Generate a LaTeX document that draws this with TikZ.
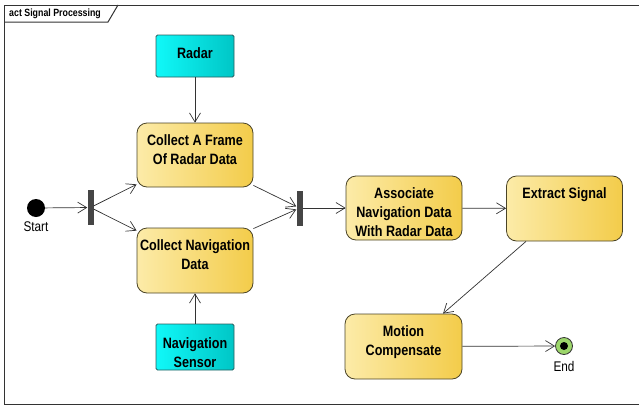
\documentclass[tikz,border=0pt]{standalone}
\usepackage{fontspec}
\setmainfont{Liberation Sans}
\newfontfamily\bfont[FakeStretch=0.84]{Liberation Sans Bold}
\newfontfamily\rfont[FakeStretch=0.84]{Liberation Sans}
\usetikzlibrary{arrows.meta}
\definecolor{actL}{HTML}{FCEBA8}
\definecolor{actR}{HTML}{F3CC4A}
\definecolor{actborder}{HTML}{4B4427}
\definecolor{objL}{HTML}{10F8F8}
\definecolor{objR}{HTML}{00C6C6}
\definecolor{objborder}{HTML}{2A5E5E}
\definecolor{bargray}{HTML}{454545}
\definecolor{linec}{HTML}{333333}
\definecolor{endgreen}{HTML}{9CD66A}
\begin{document}
\begin{tikzpicture}[x=1pt,y=-1pt,
  act/.style={draw=actborder, line width=0.8pt, rounded corners=10pt,
    left color=actL, right color=actR, minimum width=116pt,
    inner xsep=0pt, inner ysep=0pt, text height=22pt, text depth=42pt,
    align=center, font={\bfont\fontsize{15}{19}\selectfont}},
  obj/.style={draw=objborder, line width=0.8pt, rounded corners=1.5pt,
    left color=objL, right color=objR, minimum width=78pt,
    inner xsep=0pt, inner ysep=0pt, text height=23pt, text depth=19pt,
    align=center, font={\bfont\fontsize{15}{19}\selectfont}},
  lbl/.style={inner sep=0pt, font={\rfont\fontsize{14}{16}\selectfont}},
  bar/.style={fill=bargray, draw=none, minimum width=6pt, minimum height=35pt, inner sep=0pt},
  arr/.style={draw=linec, line width=0.7pt, -{Straight Barb[length=9pt,width=11pt]}}]
\useasboundingbox (0,0) rectangle (639,407);
% frame
\draw[linec, line width=1pt] (640,5) -- (4,5) -- (4,404) -- (640,404);
\draw[linec, line width=1pt] (4,22) -- (108,22) -- (118,5);
\node[anchor=west, inner sep=0pt, font={\bfont\fontsize{10.5}{12}\selectfont}] (title) at (9,14) {act Signal Processing};
% nodes
\node[obj] (radar) at (195,56) {Radar};
\node[act, text height=41pt, text depth=23pt] (ca) at (195,155) {Collect A Frame\\Of Radar Data};
\node[act, text height=41pt, text depth=24pt] (cn) at (195,260.5) {Collect Navigation\\Data};
\node[obj, text height=43pt, text depth=3pt] (ns) at (195,347) {Navigation\\Sensor};
\node[circle, fill=black, minimum size=18pt, inner sep=0pt] (start) at (36,208) {};
\node[lbl] (startlbl) at (36,227) {Start};
\node[bar] (f1) at (90.5,207.5) {};
\node[bar] (f2) at (299.5,208) {};
\node[act, text height=60pt, text depth=4pt] (as) at (404,208) {Associate\\Navigation Data\\With Radar Data};
\node[act, text depth=43pt] (ex) at (564.5,208.5) {Extract Signal};
\node[act, text height=41pt, text depth=24pt, minimum width=117pt] (mc) at (403.5,346.5) {Motion\\Compensate};
\node[circle, draw=linec, line width=0.8pt, fill=endgreen, minimum size=17pt, inner sep=0pt] (end) at (564,346) {};
\fill[black] (end.center) circle (4pt);
\node[lbl] (endlbl) at (564,366) {End};
% connectors
\draw[arr] (start) -- (f1);
\draw[arr] (f1) -- ([yshift=3pt]ca.south west);
\draw[arr] (f1) -- ([yshift=-3pt]cn.north west);
\draw[arr] ([yshift=2pt]ca.south east) -- (f2);
\draw[arr] ([yshift=-1pt]cn.north east) -- (f2);
\draw[arr] (f2) -- (as);
\draw[arr] (as) -- (ex);
\draw[arr] ([xshift=-38.5pt]ex.south) -- ([xshift=39.5pt]mc.north);
\draw[arr] (mc) -- (end);
\draw[arr] (radar) -- (ca);
\draw[arr] (ns) -- (cn);
\end{tikzpicture}
\end{document}
